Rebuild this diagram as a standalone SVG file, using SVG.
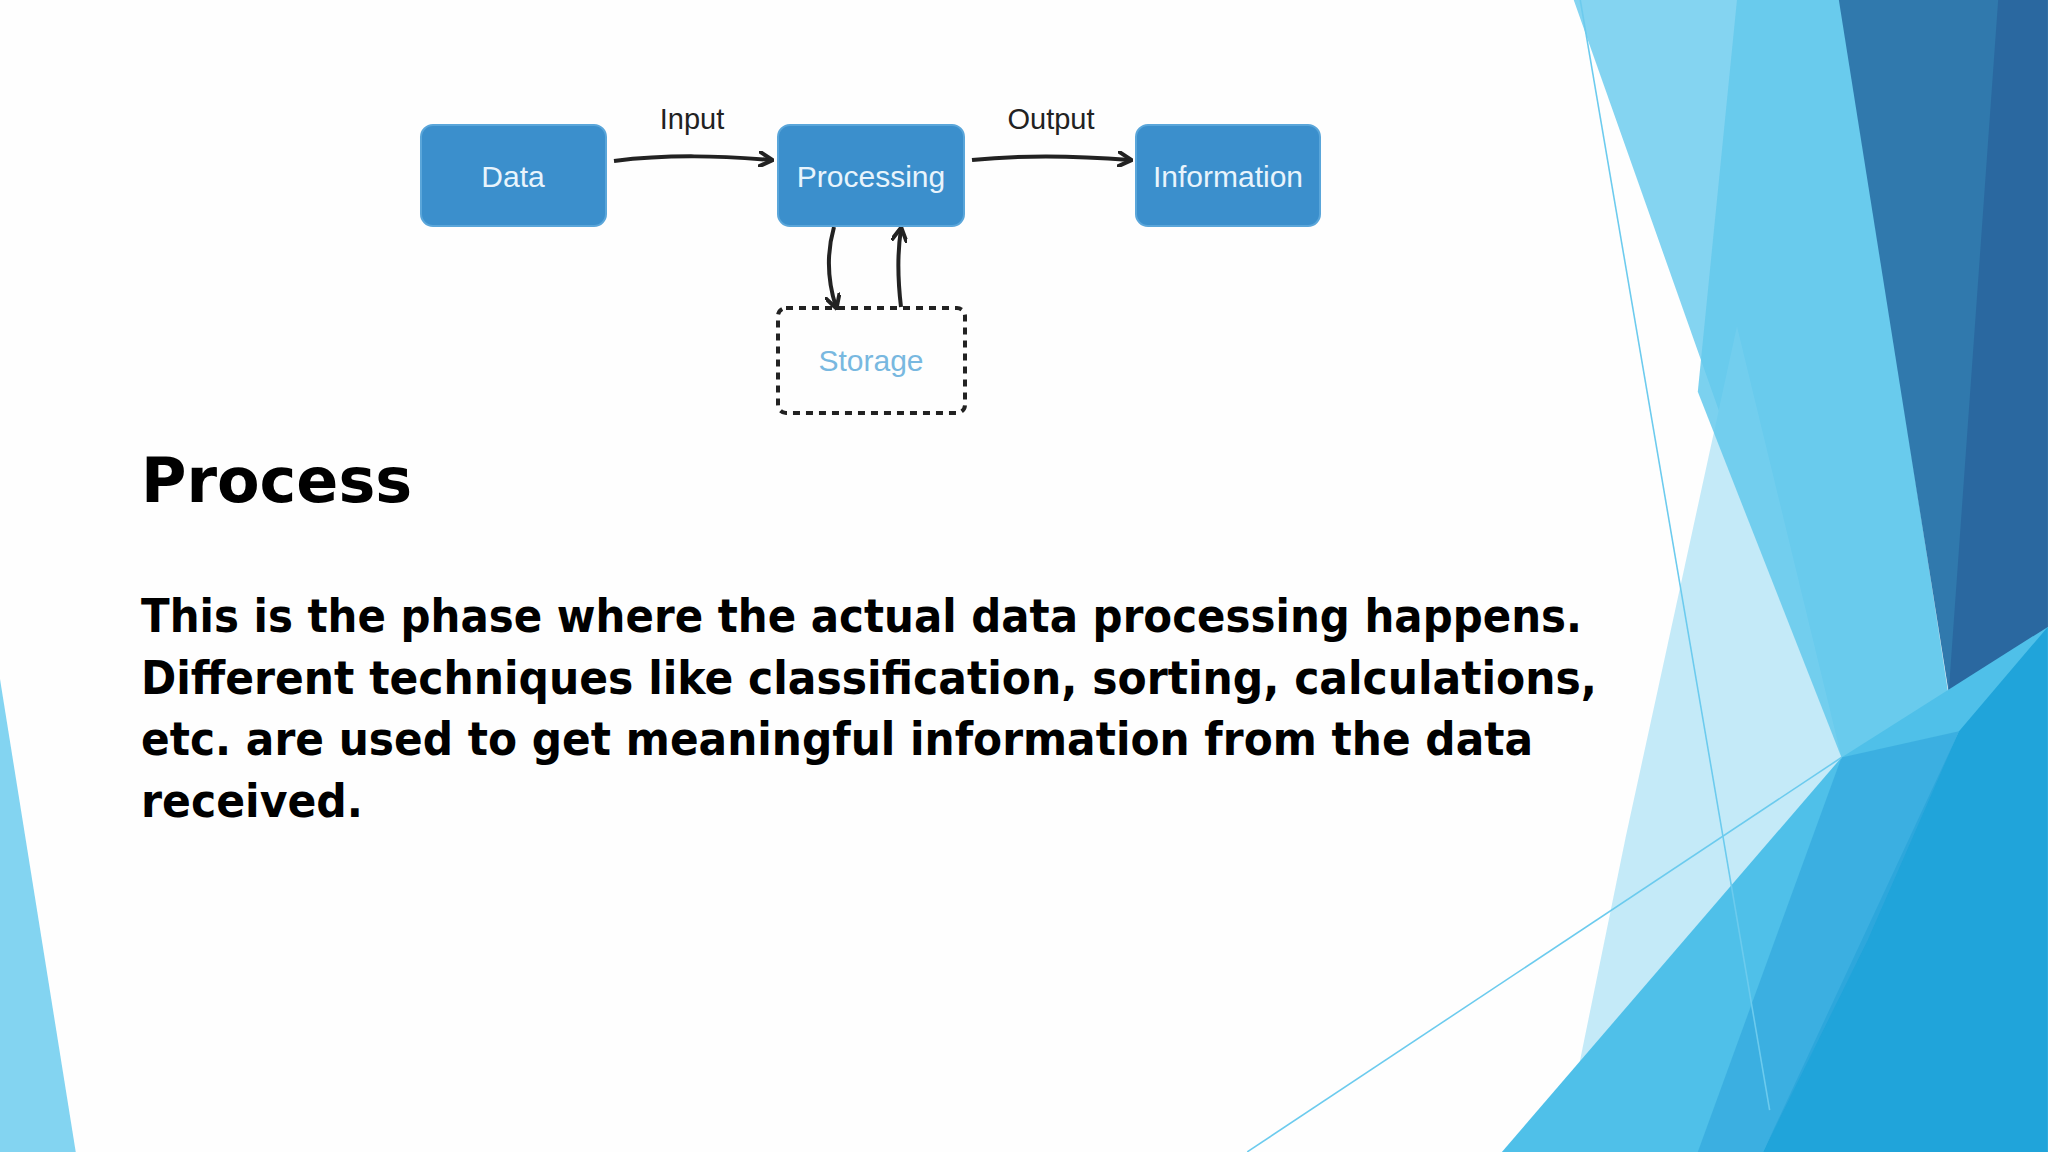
<svg xmlns="http://www.w3.org/2000/svg" width="2048" height="1152" viewBox="0 0 2048 1152">
<defs>
<style>
.box{fill:#3b8fcc;stroke:#5aa6da;stroke-width:2}
.bt{font-family:"Liberation Sans",Arial,sans-serif;font-size:30px;fill:#e8f4fc;text-anchor:middle}
.lbl{font-family:"Liberation Sans",Arial,sans-serif;font-size:29px;fill:#222;text-anchor:middle}
.con{fill:none;stroke:#222;stroke-width:4;marker-end:url(#ah)}
.body{font-family:"DejaVu Sans",Verdana,sans-serif;font-weight:bold;fill:#000}
</style>
<marker id="ah" viewBox="0 0 10 10" refX="8" refY="5" markerWidth="4" markerHeight="4" orient="auto"><path d="M0,0 L9,5 L0,10" fill="none" stroke="#222" stroke-width="2.5"/></marker>
</defs>
<rect width="2048" height="1152" fill="#fefefe"/>
<g id="background" transform="scale(1.306)">
<polygon points="0,520 0,882 58,882" fill="#83d4f1"/>
<polygon points="1205,0 1410,0 1510,650 1410,580" fill="#84d4f1"/>
<polygon points="1330,250 1410,580 1200,860 1245,640" fill="#c4eaf8"/>
<polygon points="1330,0 1410,0 1510,650 1410,580 1300,300" fill="#64c9ec" opacity="0.85"/>
<polygon points="1408,0 1568,0 1568,480 1500,580" fill="#3079ad"/>
<polygon points="1530,0 1568,0 1568,480 1490,560" fill="#2a68a0"/>
<polygon points="1410,580 1568,480 1568,882 1150,882" fill="#4fc0e9"/>
<polygon points="1500,560 1568,480 1568,882 1350,882" fill="#20a4da"/>
<polygon points="1410,580 1500,560 1430,720 1350,882 1300,882" fill="#33a8dd" opacity="0.7"/>
<line x1="1210" y1="0" x2="1355" y2="850" stroke="#6ccbee" stroke-width="1.2"/>
<line x1="955" y1="882" x2="1410" y2="580" stroke="#6ccbee" stroke-width="1.2"/>
</g>
<g id="connectors">
<path class="con" d="M614,161 C670,154 720,156 771,160"/>
<path class="con" d="M972,160 C1030,154 1080,156 1130,160"/>
<path class="con" d="M834,227 C826,255 828,282 836,307"/>
<path class="con" d="M901,307 C898,282 897,255 901,229"/>
<text class="lbl" x="692" y="129">Input</text>
<text class="lbl" x="1051" y="129">Output</text>
</g>
<g id="data"><rect class="box" x="421" y="125" width="185" height="101" rx="12"/><text class="bt" x="513" y="187">Data</text></g>
<g id="processing"><rect class="box" x="778" y="125" width="186" height="101" rx="12"/><text class="bt" x="871" y="187">Processing</text></g>
<g id="information"><rect class="box" x="1136" y="125" width="184" height="101" rx="12"/><text class="bt" x="1228" y="187">Information</text></g>
<g id="storage"><rect x="778" y="308" width="187" height="105" rx="8" fill="none" stroke="#222" stroke-width="4" stroke-dasharray="7,6"/><text class="bt" x="871" y="371" style="fill:#78b8e0">Storage</text></g>
<g id="text">
<text class="body" x="141" y="502" font-size="62">Process</text>
<text class="body" font-size="46" x="141" y="632" textLength="1441" lengthAdjust="spacingAndGlyphs">This is the phase where the actual data processing happens.</text>
<text class="body" font-size="46" x="141" y="694" textLength="1456" lengthAdjust="spacingAndGlyphs">Different techniques like classification, sorting, calculations,</text>
<text class="body" font-size="46" x="141" y="755" textLength="1392" lengthAdjust="spacingAndGlyphs">etc. are used to get meaningful information from the data</text>
<text class="body" font-size="46" x="141" y="817" textLength="222" lengthAdjust="spacingAndGlyphs">received.</text>
</g>
</svg>
